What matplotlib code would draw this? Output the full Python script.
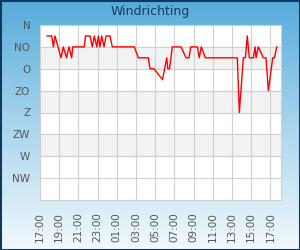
import numpy as np
import matplotlib
matplotlib.use("Agg")
import matplotlib.pyplot as plt
from matplotlib.colors import LinearSegmentedColormap

# hours after 17:00 and wind direction in degrees
hours = [0.73, 1.22, 1.39, 1.56, 2.19, 2.43, 2.76, 3.02, 3.30, 3.41,
         4.61, 4.74, 5.21, 5.45, 5.66, 5.91, 6.09, 6.25, 6.43, 6.67,
         6.88, 7.29, 7.53, 9.82, 10.24, 11.28, 11.46, 11.88, 12.76, 13.20,
         13.31, 13.49, 13.78, 14.69, 15.21, 15.52, 15.70, 16.39, 16.59, 16.80,
         17.22, 20.55, 20.76, 21.18, 21.39, 21.59, 21.80, 22.22, 22.40, 22.50,
         22.74, 23.26, 23.54, 23.78, 24.24, 24.41, 24.66]
direction = [22.5, 22.5, 45, 22.5, 67.5, 45, 67.5, 45, 67.5, 45,
             45, 22.5, 22.5, 45, 22.5, 45, 22.5, 45, 22.5, 45,
             22.5, 22.5, 45, 45, 67.5, 67.5, 90, 90, 112.5, 67.5,
             90, 90, 45, 45, 67.5, 67.5, 45, 45, 67.5, 45,
             67.5, 67.5, 180, 67.5, 67.5, 22.5, 67.5, 67.5, 45, 67.5,
             45, 67.5, 67.5, 135, 67.5, 67.5, 45]

compass = ["N", "NO", "O", "ZO", "Z", "ZW", "W", "NW"]
compass_deg = [0, 45, 90, 135, 180, 225, 270, 315]
time_labels = ["17:00", "19:00", "21:00", "23:00", "01:00", "03:00", "05:00",
               "07:00", "09:00", "11:00", "13:00", "15:00", "17:00"]
time_ticks = [0, 2, 4, 6, 8, 10, 12, 14, 16, 18, 20, 22, 24]

fig = plt.figure(figsize=(3, 2.5), dpi=100)

# background gradient
bg = fig.add_axes([0, 0, 1, 1])
cmap = LinearSegmentedColormap.from_list("bg", ["#56abdb", "#a9d5ed", "#f2f9fd"])
grad = np.linspace(0, 1, 256).reshape(-1, 1)
bg.imshow(grad, aspect="auto", cmap=cmap, extent=[0, 1, 0, 1], origin="upper")
bg.set_xlim(0, 1)
bg.set_ylim(0, 1)
bg.axis("off")
bg.add_patch(plt.Rectangle((0, 0), 1, 1, transform=bg.transAxes, fill=False,
                           edgecolor="#12385e", linewidth=2.2, clip_on=False))

fig.text(0.5, 0.952, "Windrichting", ha="center", va="center",
         fontsize=9, color="#1a3a5e")

ax = fig.add_axes([40 / 300, 50 / 250, 241 / 300, 175 / 250])
ax.set_facecolor("white")
for lo in [45, 135, 225]:
    ax.axhspan(lo, lo + 45, color="#f2f2f2", zorder=0)

ax.plot(hours, direction, color="#ff0000", linewidth=1.0, zorder=3)

ax.set_xlim(0, 25.1)
ax.set_ylim(360, 0)
ax.set_yticks(compass_deg)
ax.set_yticklabels(compass)
ax.set_xticks(time_ticks)
ax.set_xticklabels(time_labels, rotation=90)
ax.grid(True, color="#d0d0d0", linewidth=0.8, zorder=1)
ax.set_axisbelow(True)
ax.tick_params(axis="both", length=0, labelsize=7.5, labelcolor="#555555")
ax.tick_params(axis="y", pad=7)
ax.tick_params(axis="x", pad=9)
for s in ax.spines.values():
    s.set_color("#d0d0d0")
    s.set_linewidth(0.8)

fig.savefig("out.png", dpi=100)
